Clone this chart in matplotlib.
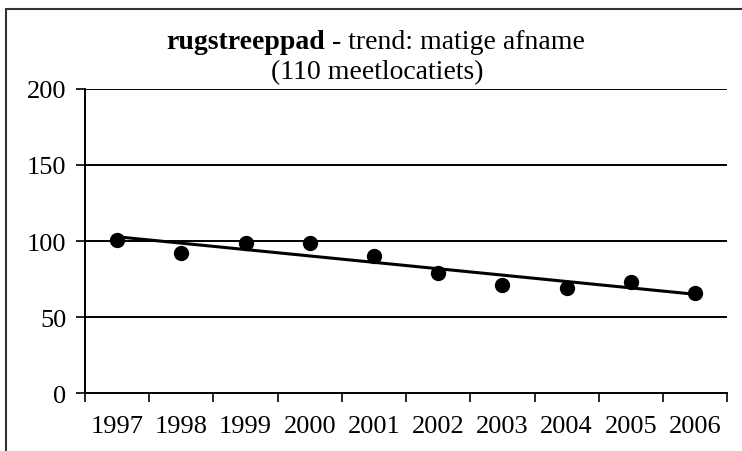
import numpy as np
import matplotlib.pyplot as plt
from matplotlib.patches import Rectangle

years = ["1997", "1998", "1999", "2000", "2001", "2002", "2003", "2004", "2005", "2006"]
index_values = [101, 92, 99, 99, 90, 79, 71, 69, 73, 66]
y_ticks = [0, 50, 100, 150, 200]

plt.rcParams["font.family"] = ["Liberation Serif", "DejaVu Serif"]

fig = plt.figure(figsize=(7.42, 4.52), dpi=100)
ax = fig.add_axes([0.1146, 0.128, 0.8654, 0.673])

x = np.arange(len(years))
# linear trend through the yearly indices
slope, intercept = np.polyfit(x, index_values, 1)
ax.plot(x, slope * x + intercept, color="black", lw=2.2, zorder=3)
ax.plot(x, index_values, "o", color="black", ms=10, zorder=4)

ax.set_xlim(-0.5, len(years) - 0.5)
ax.set_ylim(0, 200)
ax.set_yticks(y_ticks)
ax.set_yticklabels([str(v) for v in y_ticks])
for v in y_ticks[1:]:
    ax.axhline(v, color="black", lw=1.4, zorder=1)

# category ticks sit between the years, labels in the middle
ax.set_xticks(np.arange(-0.5, len(years)), minor=False)
ax.set_xticklabels([])
ax.set_xticks(x, minor=True)
ax.set_xticklabels(years, minor=True)
ax.tick_params(axis="x", which="major", direction="out", length=6.5, width=1.2)
ax.tick_params(axis="x", which="minor", length=0, pad=16, labelsize=19)
ax.tick_params(axis="y", direction="out", length=6.5, width=1.2, labelsize=19, pad=7)

for side in ["top", "right"]:
    ax.spines[side].set_visible(False)
ax.spines["left"].set_linewidth(1.4)
ax.spines["bottom"].set_linewidth(1.4)

fig.text(0.438, 0.907, "rugstreeppad", ha="right", va="center", fontsize=20,
         fontweight="bold")
fig.text(0.438, 0.907, " - trend: matige afname", ha="left", va="center", fontsize=20)
fig.text(0.508, 0.84, "(110 meetlocatiets)", ha="center", va="center", fontsize=20)

# outer frame of the original figure
fig.patches.append(Rectangle((6 / 742, -0.1), 1.2, 1.1 - 10 / 452,
                             transform=fig.transFigure, fill=False,
                             edgecolor="#333333", lw=1.5))

fig.savefig("out.png", dpi=100)
